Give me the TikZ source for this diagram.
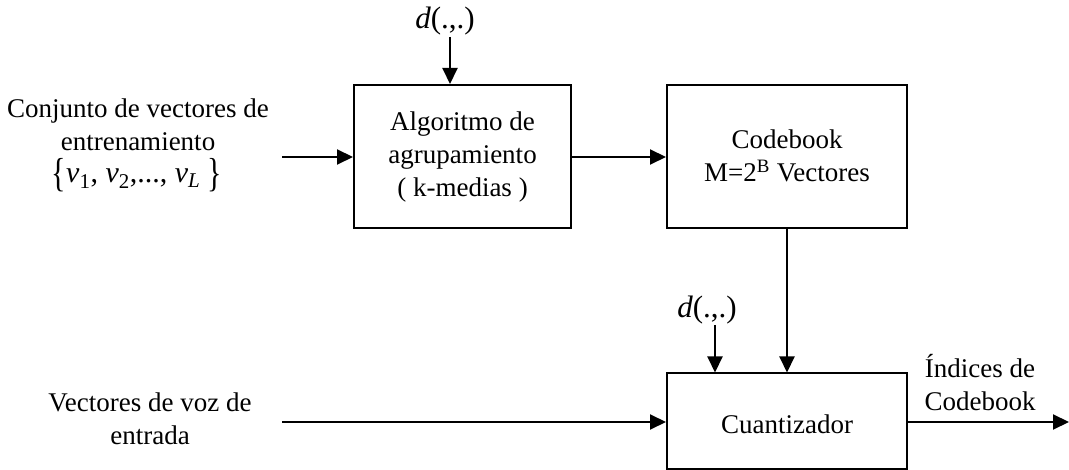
\documentclass[tikz,border=0pt]{standalone}
\usepackage{graphicx}
\usepackage{fontspec}
\setmainfont{Liberation Serif}
\usetikzlibrary{arrows.meta}
\newcommand{\tallbr}[1]{\raisebox{-0.12em}{\scalebox{1}[1.35]{#1}}}
\begin{document}
\begin{tikzpicture}[x=1pt,y=-1pt,
  blk/.style={draw,line width=2pt,inner sep=0pt},
  lbl/.style={align=center,font=\fontsize{27}{33}\selectfont,inner sep=0pt},
  con/.style={line width=2pt,-{Triangle[length=16pt,width=15pt]}},
  dist/.style={inner sep=0pt,font=\fontsize{31}{34}\selectfont}]
\useasboundingbox (0,0) rectangle (1069,470);
\node[blk,minimum width=217pt,minimum height=143pt] (alg) at (462.5,156.5) {};
\node[blk,minimum width=240pt,minimum height=143pt] (cb) at (787,156.5) {};
\node[blk,minimum width=240pt,minimum height=95pt] (q) at (787,421) {};
\node[lbl] (algt) at (462.5,157) {Algoritmo de\\agrupamiento\\( k-medias )};
\node[lbl] (cbt) at (787,156) {Codebook\\M=2\textsuperscript{B} Vectores};
\node[lbl] (qt) at (787,424) {Cuantizador};
\node[lbl] (train) at (138,125) {Conjunto de vectores de\\entrenamiento};
\node[inner sep=0pt,font=\fontsize{30}{34}\selectfont] (set) at (137,175) {\tallbr{\{}\textit{v}\textsubscript{1}, \textit{v}\textsubscript{2},..., \textit{v}\textsubscript{\textit{L}} \tallbr{\}}};
\node[lbl] (voz) at (150,419) {Vectores de voz de\\entrada};
\node[lbl] (idx) at (980,383) {Índices de\\Codebook};
\node[dist] (d1) at (445,21) {\textit{d}(.,.)};
\node[dist] (d2) at (707,310) {\textit{d}(.,.)};
\coordinate (in1) at (282,157);
\coordinate (in2) at (282,422);
\coordinate (out) at (1069,422);
\coordinate (d1s) at (450,37);
\coordinate (d2s) at (715,325);
\draw[con] (in1) -- (alg.west |- in1);
\draw[con] (alg.east |- in1) -- (cb.west |- in1);
\draw[con] (d1s) -- (d1s |- alg.north);
\draw[con] (cb.south) -- (q.north);
\draw[con] (d2s) -- (d2s |- q.north);
\draw[con] (in2) -- (q.west |- in2);
\draw[con] (q.east |- out) -- (out);
\end{tikzpicture}
\end{document}
